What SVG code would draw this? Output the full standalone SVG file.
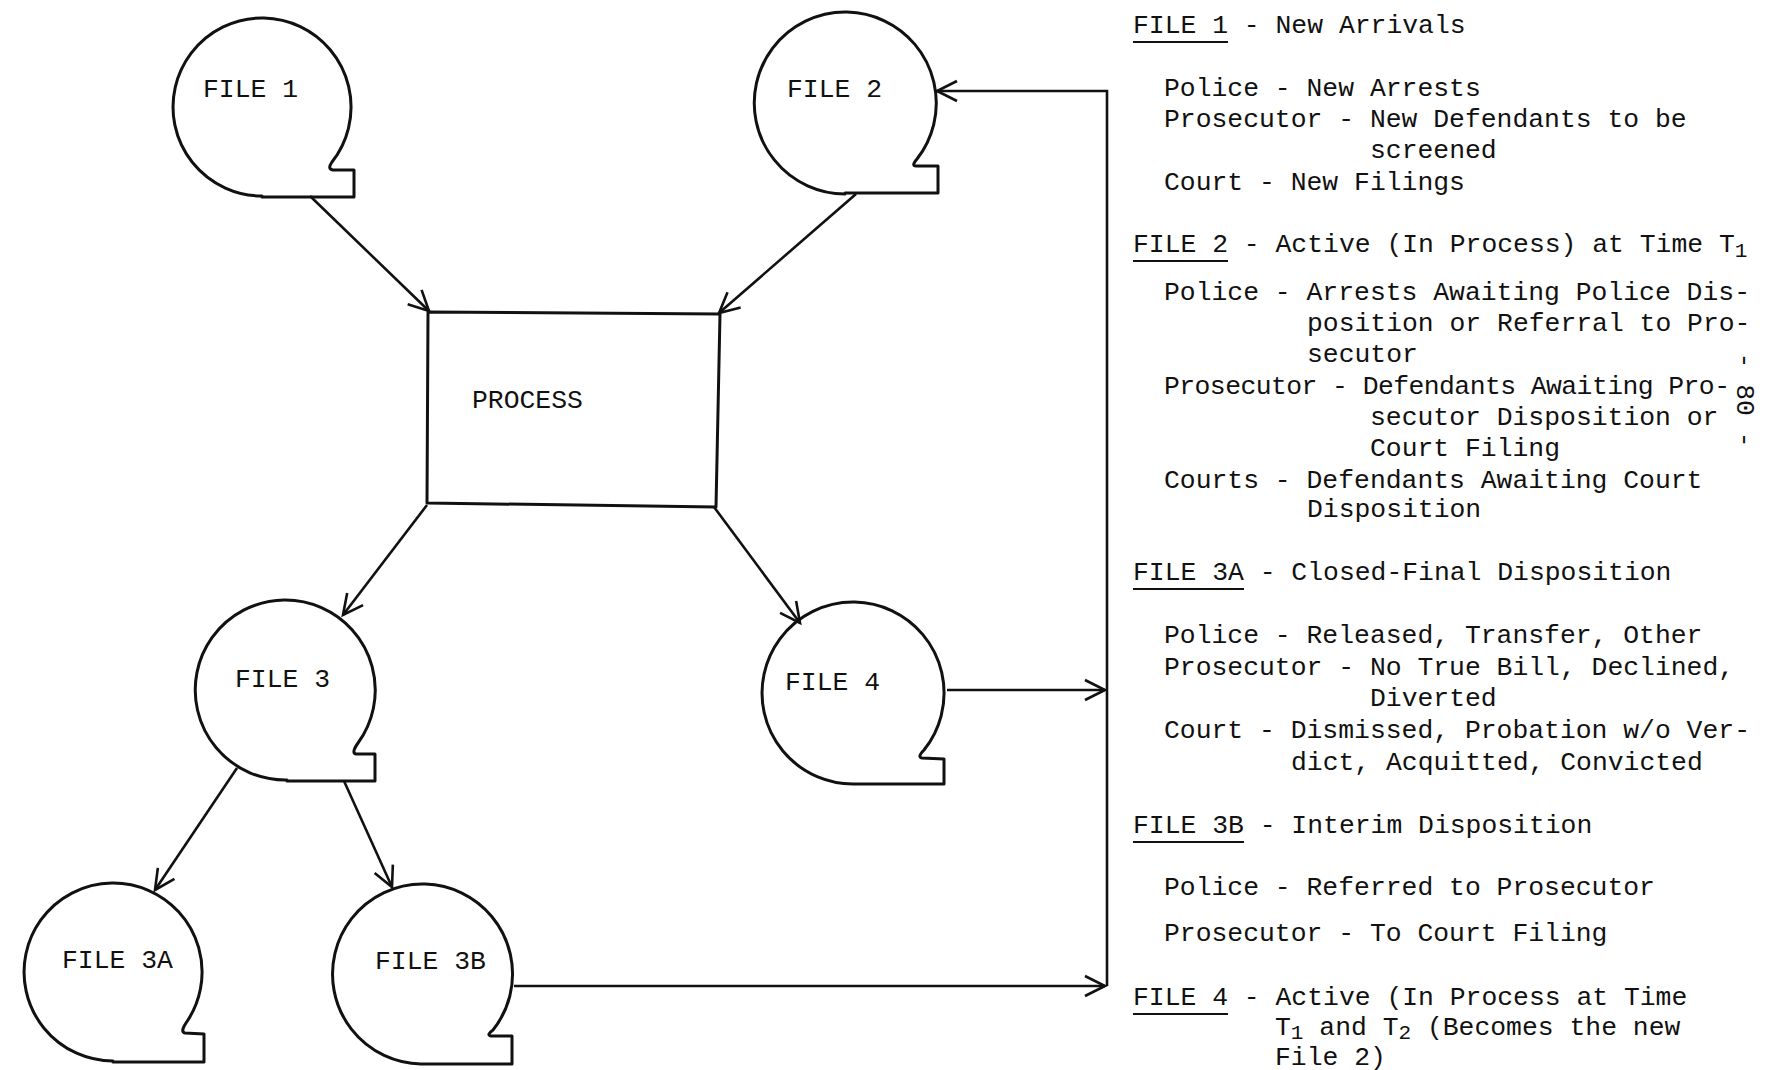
<svg xmlns="http://www.w3.org/2000/svg" width="1791" height="1070" viewBox="0 0 1791 1070">
<defs>
<style>
.node{fill:none;stroke:#111;stroke-width:3;stroke-linejoin:round}
.lbl{font-family:"Liberation Mono","DejaVu Sans Mono",monospace;font-size:26.4px;fill:#111}
.t{font-family:"Liberation Mono","DejaVu Sans Mono",monospace;font-size:26.4px;fill:#111}
.conn{fill:none;stroke:#111;stroke-width:2.6}
.ul{stroke:#111;stroke-width:2}
</style>
<marker id="arr" viewBox="0 0 22 22" refX="20" refY="10" markerWidth="22" markerHeight="22" markerUnits="userSpaceOnUse" orient="auto" overflow="visible">
<path d="M0,0 L20,10 L0,20" fill="none" stroke="#111" stroke-width="2.6"/>
</marker>
</defs>
<rect width="1791" height="1070" fill="#fff"/>

<g id="connectors">
<line class="conn" x1="310" y1="196" x2="429" y2="311" marker-end="url(#arr)"/>
<line class="conn" x1="856" y1="194" x2="719" y2="313" marker-end="url(#arr)"/>
<line class="conn" x1="427" y1="505" x2="343" y2="615" marker-end="url(#arr)"/>
<line class="conn" x1="714" y1="507" x2="800" y2="623" marker-end="url(#arr)"/>
<line class="conn" x1="237" y1="768" x2="155" y2="890" marker-end="url(#arr)"/>
<line class="conn" x1="344" y1="781" x2="392" y2="887" marker-end="url(#arr)"/>
<line class="conn" x1="947" y1="690" x2="1105" y2="690" marker-end="url(#arr)"/>
<line class="conn" x1="514" y1="986" x2="1105" y2="986" marker-end="url(#arr)"/>
<polyline class="conn" points="1107,986 1107,91 937,91" marker-end="url(#arr)"/>
</g>

<g id="file1">
<path class="node" d="M262 196 A89 89 0 1 1 332 162 Q327 169 333 170 L354 170 L354 197 L262 197 Z"/>
<text class="lbl" x="203" y="97">FILE 1</text>
</g>
<g id="file2">
<path class="node" d="M845 194 A91 91 0 1 1 917 159 Q911 166 916 166 L938 166 L938 193 L845 193 Z"/>
<text class="lbl" x="787" y="97">FILE 2</text>
</g>
<g id="process">
<path class="node" d="M428 312 L720 314 L716 507 L427 503 Z"/>
<text class="lbl" x="472" y="408">PROCESS</text>
</g>
<g id="file3">
<path class="node" d="M287 780 A90 90 0 1 1 358 743 Q351 753 356 754 L375 754 L375 781 L287 781 Z"/>
<text class="lbl" x="235" y="687">FILE 3</text>
</g>
<g id="file4">
<path class="node" d="M855 784 A91 91 0 1 1 924 750 Q917 757 922 758 L944 759 L944 784 Z"/>
<text class="lbl" x="785" y="690">FILE 4</text>
</g>
<g id="file3a">
<path class="node" d="M113 1061 A89 89 0 1 1 186 1023 Q180 1032 185 1033 L204 1034 L204 1062 L113 1062 Z"/>
<text class="lbl" x="62" y="968">FILE 3A</text>
</g>
<g id="file3b">
<path class="node" d="M421 1064 A90 90 0 1 1 493 1030 Q486 1035 491 1036 L512 1036 L512 1064 Z"/>
<text class="lbl" x="375" y="969">FILE 3B</text>
</g>

<g id="legend">
<text class="t" x="1133" y="33">FILE 1 - New Arrivals</text>
<line class="ul" x1="1133" y1="42" x2="1228" y2="42"/>
<text class="t" x="1164" y="96">Police - New Arrests</text>
<text class="t" x="1164" y="127">Prosecutor - New Defendants to be</text>
<text class="t" x="1370" y="158">screened</text>
<text class="t" x="1164" y="190">Court - New Filings</text>

<text class="t" x="1133" y="252">FILE 2 - Active (In Process) at Time T<tspan dy="5" font-size="21">1</tspan></text>
<line class="ul" x1="1133" y1="261" x2="1228" y2="261"/>
<text class="t" x="1164" y="300">Police - Arrests Awaiting Police Dis-</text>
<text class="t" x="1307" y="331">position or Referral to Pro-</text>
<text class="t" x="1307" y="362">secutor</text>
<text class="t" x="1164" y="394" textLength="566" lengthAdjust="spacing">Prosecutor - Defendants Awaiting Pro-</text>
<text class="t" x="1370" y="425">secutor Disposition or</text>
<text class="t" x="1370" y="456">Court Filing</text>
<text class="t" x="1164" y="488">Courts - Defendants Awaiting Court</text>
<text class="t" x="1307" y="517">Disposition</text>

<text class="t" x="1133" y="580">FILE 3A - Closed-Final Disposition</text>
<line class="ul" x1="1133" y1="589" x2="1244" y2="589"/>
<text class="t" x="1164" y="643">Police - Released, Transfer, Other</text>
<text class="t" x="1164" y="675">Prosecutor - No True Bill, Declined,</text>
<text class="t" x="1370" y="706">Diverted</text>
<text class="t" x="1164" y="738">Court - Dismissed, Probation w/o Ver-</text>
<text class="t" x="1291" y="770">dict, Acquitted, Convicted</text>

<text class="t" x="1133" y="833">FILE 3B - Interim Disposition</text>
<line class="ul" x1="1133" y1="842" x2="1244" y2="842"/>
<text class="t" x="1164" y="895">Police - Referred to Prosecutor</text>
<text class="t" x="1164" y="941">Prosecutor - To Court Filing</text>

<text class="t" x="1133" y="1005">FILE 4 - Active (In Process at Time</text>
<line class="ul" x1="1133" y1="1014" x2="1228" y2="1014"/>
<text class="t" x="1275" y="1035">T<tspan dy="4" font-size="21">1</tspan><tspan dy="-4"> and T</tspan><tspan dy="4" font-size="21">2</tspan><tspan dy="-4"> (Becomes the new</tspan></text>
<text class="t" x="1275" y="1065">File 2)</text>

<text class="t" x="1744" y="400" text-anchor="middle" dominant-baseline="central" transform="rotate(90 1744 400)">- 80 -</text>
</g>
</svg>
